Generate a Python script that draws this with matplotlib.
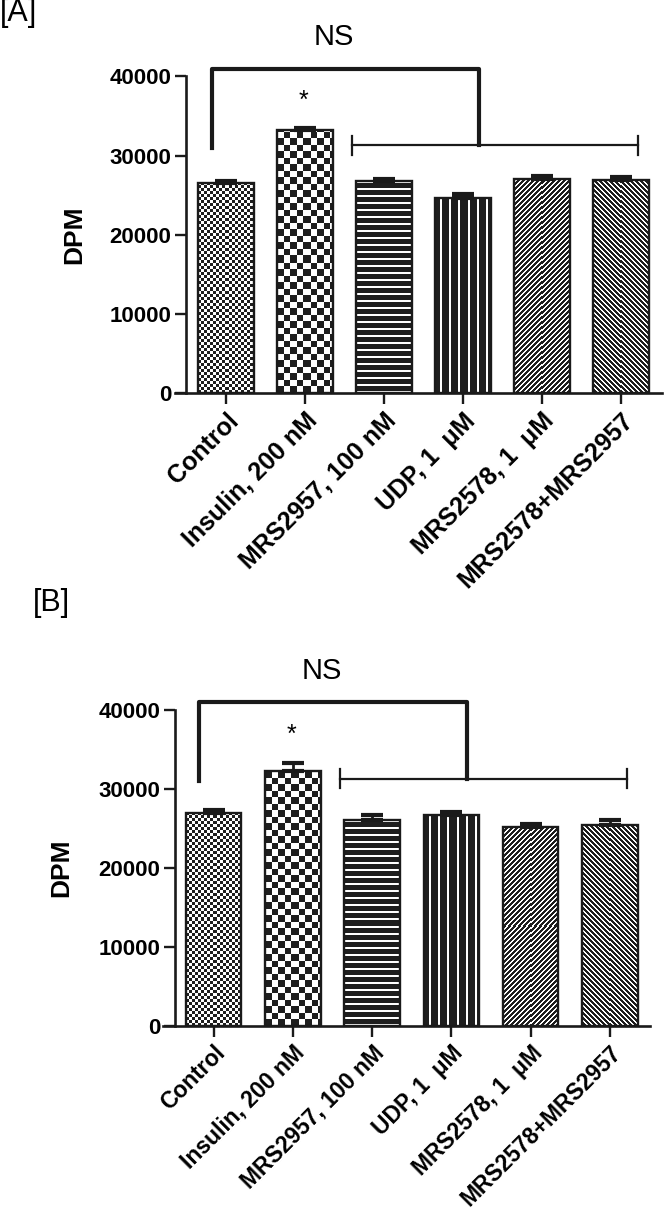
import numpy as np
import matplotlib
matplotlib.use("Agg")
from matplotlib import pyplot as plt

plt.rcParams['font.family'] = ['Liberation Sans', 'DejaVu Sans']

# data
groups = ["Control", "Insulin, 200 nM", "MRS2957, 100 nM", "UDP, 1  \u03bcM",
          "MRS2578, 1  \u03bcM", "MRS2578+MRS2957"]
dpm_a = [26500, 33200, 26750, 24700, 27000, 26950]
err_a = [300, 300, 350, 500, 400, 400]
dpm_b = [27000, 32300, 26100, 26650, 25200, 25400]
err_b = [300, 1000, 600, 450, 400, 700]
yticks = [0, 10000, 20000, 30000, 40000]
patterns = ["fine", "coarse", "hlines", "vlines", "fwd", "back"]

DARK = 0.12


def texture(kind, nr, nc):
    r, c = np.mgrid[0:nr, 0:nc]
    rb = nr - 1 - r
    if kind == "fine":
        black = ((rb // 3 + c // 3) % 2) == 0
    elif kind == "coarse":
        black = ((np.floor(rb / 6.5) + np.floor(c / 6.5)) % 2) == 0
    elif kind == "hlines":
        black = (rb % 7) > 1
    elif kind == "vlines":
        black = ((c - 5) % 9) > 1
    elif kind == "fwd":
        black = ((rb - c) % 5) > 1
    else:
        black = ((rb + c) % 5) > 1
    return np.where(black, DARK, 1.0)


def draw_panel(ax, vals, errs, left_spine_x, xlim, xfs):
    x = np.arange(len(groups))
    ax.set_xlim(*xlim)
    ax.set_ylim(0, 40000)
    ax.set_autoscale_on(False)
    bars = ax.bar(x, vals, width=0.70, facecolor='none', edgecolor='#1a1a1a',
                  linewidth=1.7, zorder=3)
    for b, kind in zip(bars, patterns):
        x0, y0, w, h = b.get_x(), b.get_y(), b.get_width(), b.get_height()
        (px0, py0), (px1, py1) = ax.transData.transform([(x0, y0), (x0 + w, y0 + h)])
        nc = max(1, int(round(px1 - px0)))
        nr = max(1, int(round(py1 - py0)))
        ax.imshow(texture(kind, nr, nc), extent=(x0, x0 + w, y0, y0 + h),
                  cmap='gray', vmin=0, vmax=1, interpolation='nearest',
                  aspect='auto', zorder=2)
    ax.errorbar(x, vals, yerr=[np.zeros(len(vals)), errs], fmt='none',
                ecolor='#1a1a1a', elinewidth=2, capsize=8, capthick=3, zorder=4)

    ax.spines['top'].set_visible(False)
    ax.spines['right'].set_visible(False)
    ax.spines['left'].set_position(('data', left_spine_x))
    ax.spines['left'].set_bounds(0, 40000)
    for s in ('left', 'bottom'):
        ax.spines[s].set_linewidth(1.9)
        ax.spines[s].set_color('#1a1a1a')
    ax.set_yticks(yticks)
    ax.set_yticklabels([str(t) for t in yticks], fontsize=16, fontweight='bold')
    ax.set_xticks(x)
    ax.set_xticklabels(groups, rotation=45, ha='right', va='top',
                       rotation_mode='anchor', fontsize=xfs, fontweight='bold')
    ax.tick_params(axis='both', direction='out', length=8, width=1.7,
                   color='#1a1a1a', pad=2.5)
    ax.tick_params(axis='x', pad=3)
    ax.set_ylabel("DPM", fontsize=19, fontweight='bold')

    # significance brackets
    ax.plot([-0.18, -0.18, 3.2, 3.2], [31000, 40950, 40950, 31300],
            color='#1a1a1a', lw=3, clip_on=False, zorder=5)
    ax.plot([1.6, 5.22], [31300, 31300], color='#1a1a1a', lw=1.6,
            clip_on=False, zorder=5)
    for xe in (1.6, 5.22):
        ax.plot([xe, xe], [30100, 32500], color='#1a1a1a', lw=1.6,
                clip_on=False, zorder=5)
    ax.text(1.36, 44900, "NS", ha='center', va='center', fontsize=21)
    ax.text(0.98, 36900, "*", ha='center', va='center', fontsize=18)


fig = plt.figure(figsize=(6.64, 12.16), dpi=100)
ax_a = fig.add_axes([175 / 664, 1 - 393.3 / 1216, 487 / 664, 317 / 1216])
ax_b = fig.add_axes([163 / 664, 1 - 1026 / 1216, 486.5 / 664, 316 / 1216])

draw_panel(ax_a, dpm_a, err_a, -0.506, (-0.646, 5.519), 18)
draw_panel(ax_b, dpm_b, err_b, -0.49, (-0.64, 5.50), 16.5)
ax_a.yaxis.set_label_coords(-0.183, 0.5)
ax_b.yaxis.set_label_coords(-0.185, 0.5)

fig.text(0.0, 1.002, "[A]", ha='left', va='top', fontsize=22)
fig.text(33 / 664, 1 - 588 / 1216, "[B]", ha='left', va='top', fontsize=22)

fig.savefig("out.png", dpi=100)
